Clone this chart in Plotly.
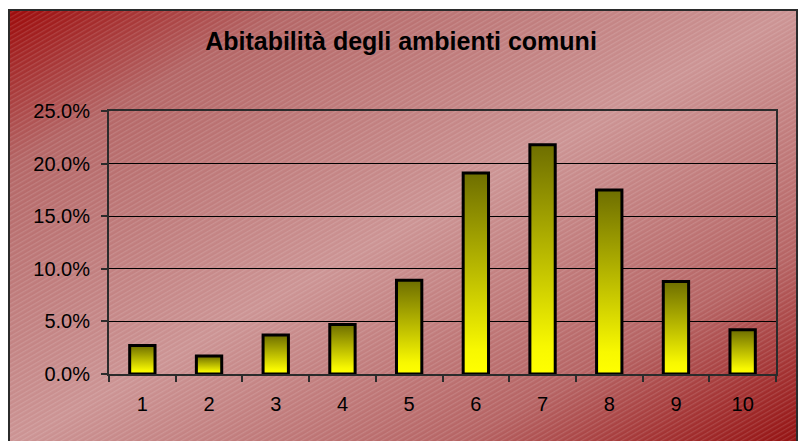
import base64
import plotly.graph_objects as go

# ---- data ----
categories = ["1", "2", "3", "4", "5", "6", "7", "8", "9", "10"]
values = [0.027, 0.017, 0.037, 0.047, 0.089, 0.191, 0.218, 0.175, 0.088, 0.042]
y_ticks = [0.0, 0.05, 0.10, 0.15, 0.20, 0.25]
title_text = "Abitabilità degli ambienti comuni"

FONT = "Liberation Sans, Arial, sans-serif"
W, H = 802, 441
ML, MR, MT, MB = 109, 26, 111, 67
PW, PH = W - ML - MR, H - MT - MB

# background (gradient + fine diagonal hatch) as an svg image
fx0, fy0, fx1, fy1 = 8, 9, 798, 446
fw, fh = fx1 - fx0, fy1 - fy0
svg = f'''<svg xmlns="http://www.w3.org/2000/svg" width="{fw}" height="{fh}" viewBox="0 0 {fw} {fh}">
<defs>
<linearGradient id="g" x1="0" y1="0" x2="1" y2="1">
<stop offset="0" stop-color="#9c0808"/>
<stop offset="0.18" stop-color="#b46666"/>
<stop offset="0.5" stop-color="#cc9494"/>
<stop offset="0.78" stop-color="#b66464"/>
<stop offset="0.9" stop-color="#a43434"/>
<stop offset="1" stop-color="#941010"/>
</linearGradient>
<pattern id="p" width="4" height="4" patternUnits="userSpaceOnUse" patternTransform="rotate(-30)">
<rect x="0" y="0" width="4" height="1.3" fill="#ffffff" fill-opacity="0.13"/>
</pattern>
</defs>
<rect x="0" y="0" width="{fw}" height="{fh}" fill="url(#g)"/>
<rect x="0" y="0" width="{fw}" height="{fh}" fill="url(#p)"/>
<rect x="1" y="1" width="{fw-2}" height="{fh-2}" fill="none" stroke="#2b2b2b" stroke-width="2"/>
</svg>'''
src = "data:image/svg+xml;base64," + base64.b64encode(svg.encode()).decode()

fig = go.Figure()

half = 0.19
for i, v in enumerate(values):
    xc = i + 1
    fig.add_trace(go.Scatter(
        x=[xc - half, xc - half, xc + half, xc + half, xc - half],
        y=[0, v, v, 0, 0],
        mode="lines",
        fill="toself",
        fillgradient=dict(type="vertical",
                          colorscale=[[0, "#ffff00"], [0.12, "#f8f800"], [1, "#6e6e00"]]),
        line=dict(color="#000000", width=3),
        showlegend=False,
        hoverinfo="skip",
    ))

fig.add_layout_image(dict(
    source=src, xref="paper", yref="paper",
    x=(fx0 - ML) / PW, y=(MT + PH - fy0) / PH,
    sizex=fw / PW, sizey=fh / PH,
    xanchor="left", yanchor="top", sizing="stretch", layer="below",
))

fig.update_layout(
    width=W, height=H,
    margin=dict(l=ML, r=MR, t=MT, b=MB),
    paper_bgcolor="#ffffff",
    plot_bgcolor="rgba(0,0,0,0)",
    font=dict(family=FONT, color="#000000", size=20),
    title=dict(text="<b>" + title_text + "</b>", x=0.5, xanchor="center",
               y=1 - 41 / H, yanchor="middle", yref="container",
               font=dict(size=25, family=FONT, color="#000000")),
    showlegend=False,
)

fig.update_xaxes(
    range=[0.5, 10.5],
    tickvals=list(range(1, len(categories) + 1)),
    ticktext=categories,
    ticks="outside", ticklen=11, tickcolor="rgba(0,0,0,0)",
    showgrid=False, zeroline=False,
    showline=True, linecolor="#2b2b2b", linewidth=2, mirror=True,
    minor=dict(tickvals=[k + 0.5 for k in range(0, len(categories) + 1)],
               ticks="outside", ticklen=6, tickcolor="#2b2b2b", tickwidth=1.5,
               showgrid=False),
    tickfont=dict(size=20, family=FONT),
)

fig.update_yaxes(
    range=[0, 0.25],
    tickvals=y_ticks,
    tickformat=".1%",
    ticks="outside", ticklen=6, tickcolor="#2b2b2b", tickwidth=1.5,
    showgrid=True, gridcolor="#000000", gridwidth=1,
    zeroline=False,
    showline=True, linecolor="#2b2b2b", linewidth=2, mirror=True,
    ticklabelstandoff=7,
    tickfont=dict(size=20, family=FONT),
)

fig.write_html("out.html")
